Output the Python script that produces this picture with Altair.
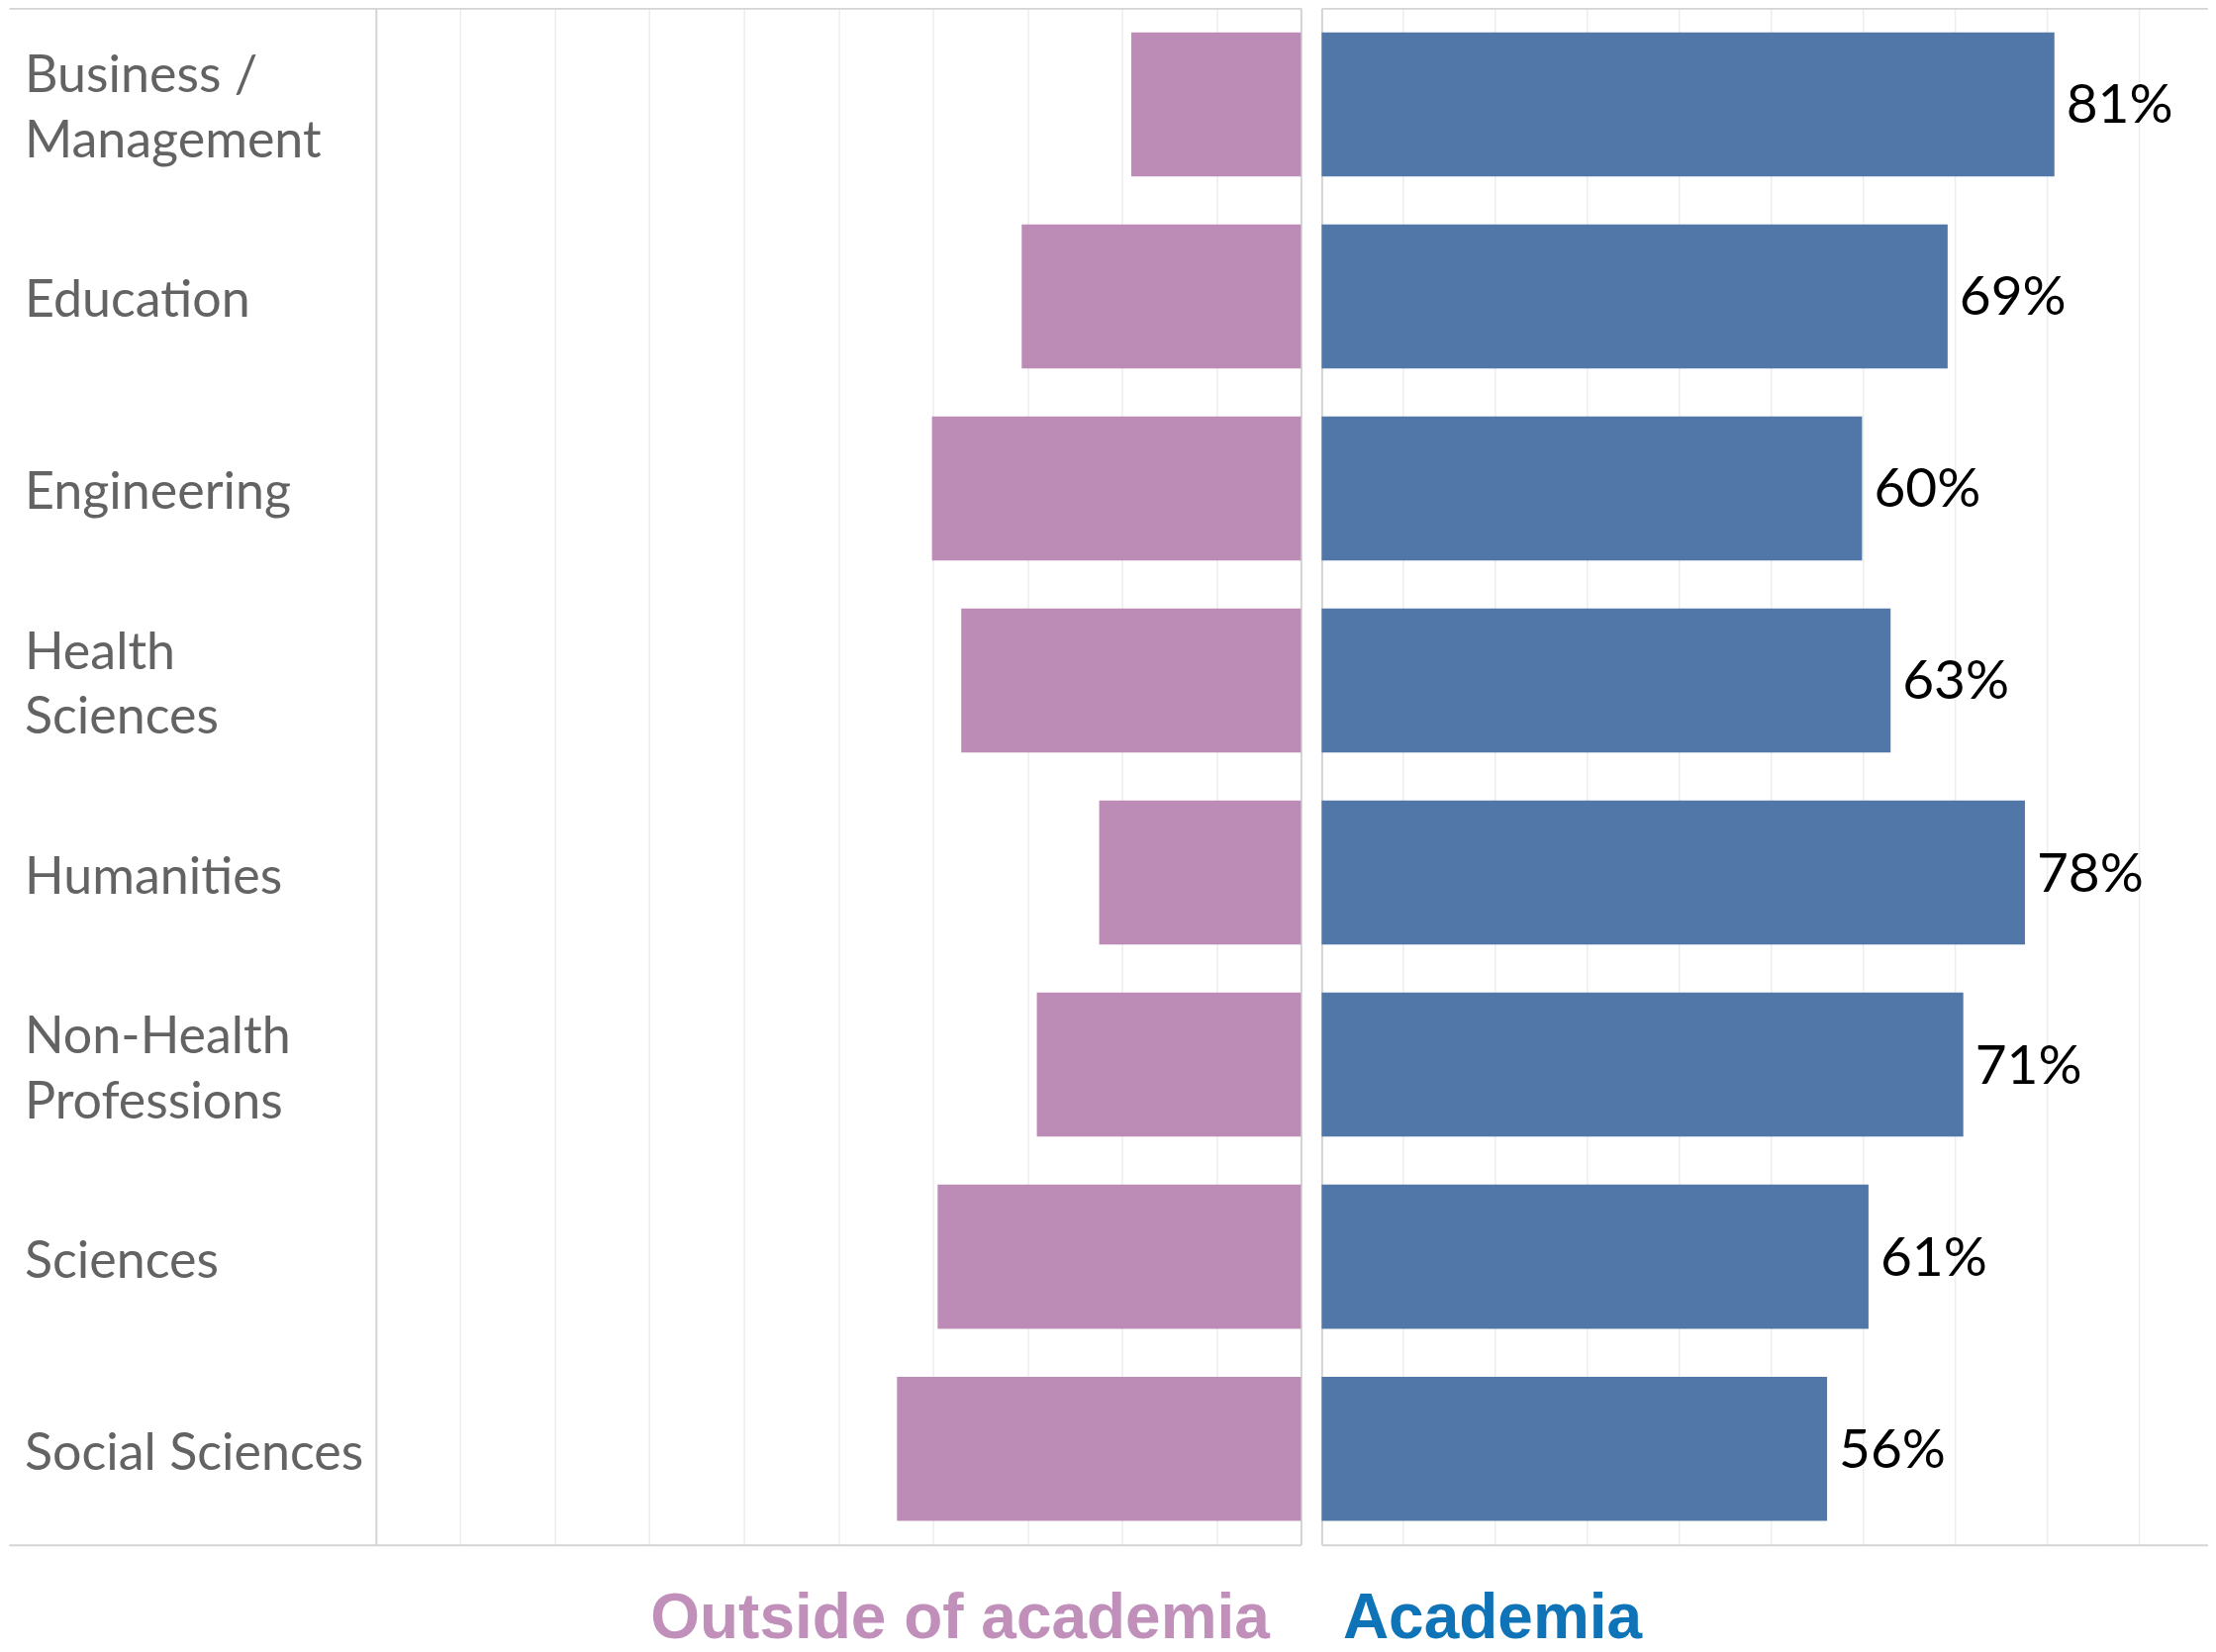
import altair as alt
import pandas as pd

# ---- data ----
categories = ["Business / Management", "Education", "Engineering", "Health Sciences",
              "Humanities", "Non-Health Professions", "Sciences", "Social Sciences"]
label_lines = ["Business /\nManagement", "Education", "Engineering", "Health\nSciences",
               "Humanities", "Non-Health\nProfessions", "Sciences", "Social Sciences"]
academia = [80.8, 69.2, 59.9, 63.0, 77.6, 70.9, 60.6, 56.1]
outside = [19.0, 30.6, 40.1, 37.0, 22.4, 29.0, 39.5, 43.8]
grid_values = [10, 20, 30, 40, 50, 60, 70, 80, 90]

df = pd.DataFrame({"Category": categories, "Label": label_lines,
                   "Academia": academia, "Outside": outside, "Anchor": [0] * len(categories)})

H = 1553
LINE = "#D4D4D4"
GRID = "#EDEDED"
PINK = "#BC8BB6"
BLUE = "#5077A7"
TITLE_PINK = "#C090BB"
TITLE_BLUE = "#0E74B7"
FONT = "Lato"
LH = 66

yscale = alt.Scale(paddingInner=0.25, paddingOuter=0.125)


def y_enc(orient=None):
    if orient is None:
        return alt.Y("Category:N", sort=categories, scale=yscale, axis=None)
    return alt.Y("Category:N", sort=categories, scale=yscale,
                 axis=alt.Axis(orient=orient, labels=False, ticks=False, grid=False,
                               domain=True, domainColor=LINE, domainWidth=2, title=None))


def x_main(field, domain, reverse, title, tx, talign, tcolor):
    return alt.X(f"{field}:Q",
                 scale=alt.Scale(domain=domain, reverse=reverse, zero=False, nice=False),
                 axis=alt.Axis(orient="bottom", values=grid_values, labels=False, ticks=False,
                               domain=True, domainColor=LINE, domainWidth=2,
                               grid=True, gridColor=GRID, gridWidth=1.5,
                               title=title, titleX=tx, titleY=94, titleAlign=talign,
                               titleBaseline="alphabetic", titleFont="Liberation Sans",
                               titleFontSize=64, titleFontWeight="bold", titleColor=tcolor))


def x_top(field, domain, reverse):
    return alt.X(f"{field}:Q",
                 scale=alt.Scale(domain=domain, reverse=reverse, zero=False, nice=False),
                 axis=alt.Axis(orient="top", labels=False, ticks=False, grid=False,
                               domain=True, domainColor=LINE, domainWidth=2, title=None))


# ---- label column ----
lab_scale = alt.Scale(domain=[0, 1], zero=False, nice=False)
lab_x_bottom = alt.X("Anchor:Q", scale=lab_scale,
                     axis=alt.Axis(orient="bottom", labels=False, ticks=False, grid=False, domain=True,
                                   domainColor=LINE, domainWidth=2, title=None))
lab_x_plain = alt.X("Anchor:Q", scale=lab_scale, axis=None)
text_style = dict(align="left", baseline="middle", dx=16, font=FONT, fontSize=52,
                  color="#636363", lineBreak="\n", lineHeight=LH)

labels_one = alt.Chart(df).transform_filter(
    "indexof(datum.Label, '\\n') < 0"
).mark_text(dy=5, **text_style).encode(x=lab_x_bottom, y=y_enc(), text="Label:N")

labels_two = alt.Chart(df).transform_filter(
    "indexof(datum.Label, '\\n') >= 0"
).mark_text(dy=5 - LH / 2, **text_style).encode(x=lab_x_plain, y=y_enc(), text="Label:N")

labels_top = alt.Chart(df).mark_point(opacity=0, size=1).encode(
    x=alt.X("Anchor:Q", scale=lab_scale,
            axis=alt.Axis(orient="top", labels=False, ticks=False, grid=False, domain=True,
                          domainColor=LINE, domainWidth=2, title=None)),
    y=y_enc(),
)
labels = alt.layer(labels_one, labels_two, labels_top).resolve_axis(x="independent").properties(
    width=371, height=H)

# ---- left pane: outside of academia ----
LDOM = [1.05, 98.95]
left_bars = alt.Chart(df).mark_bar(color=PINK, clip=True).encode(
    x=x_main("Outside", LDOM, True, "Outside of academia", 903, "right", TITLE_PINK),
    x2=alt.datum(0),
    y=y_enc("left"),
)
left_ghost = alt.Chart(df).mark_point(opacity=0, size=1).encode(
    x=x_top("Outside", LDOM, True),
    y=y_enc("right"),
)
left = alt.layer(left_bars, left_ghost).resolve_axis(x="independent", y="independent").properties(
    width=935, height=H)

# ---- right pane: academia ----
RDOM = [1.18, 97.5]
right_bars = alt.Chart(df).mark_bar(color=BLUE, clip=True).encode(
    x=x_main("Academia", RDOM, False, "Academia", 21, "left", TITLE_BLUE),
    x2=alt.datum(0),
    y=y_enc("left"),
)
right_text = alt.Chart(df).transform_calculate(
    Pct="format(datum.Academia, '.0f') + '%'"
).mark_text(align="left", baseline="middle", dx=12, dy=2, font=FONT, fontSize=55,
            color="#000000").encode(
    x=alt.X("Academia:Q", scale=alt.Scale(domain=RDOM, zero=False, nice=False), axis=None),
    y=y_enc(),
    text="Pct:N",
)
right_ghost = alt.Chart(df).mark_point(opacity=0, size=1).encode(
    x=x_top("Academia", RDOM, False),
    y=y_enc(),
)
right = alt.layer(right_bars, right_text, right_ghost).resolve_axis(
    x="independent", y="independent").properties(width=896, height=H)

chart = alt.hconcat(labels, alt.hconcat(left, right, spacing=21), spacing=0).properties(
    padding={"left": 0, "top": 0, "right": 0, "bottom": 0}
).configure_view(stroke="transparent", strokeWidth=0)

chart.save("out.html", embed_options={"renderer": "svg", "actions": False})
